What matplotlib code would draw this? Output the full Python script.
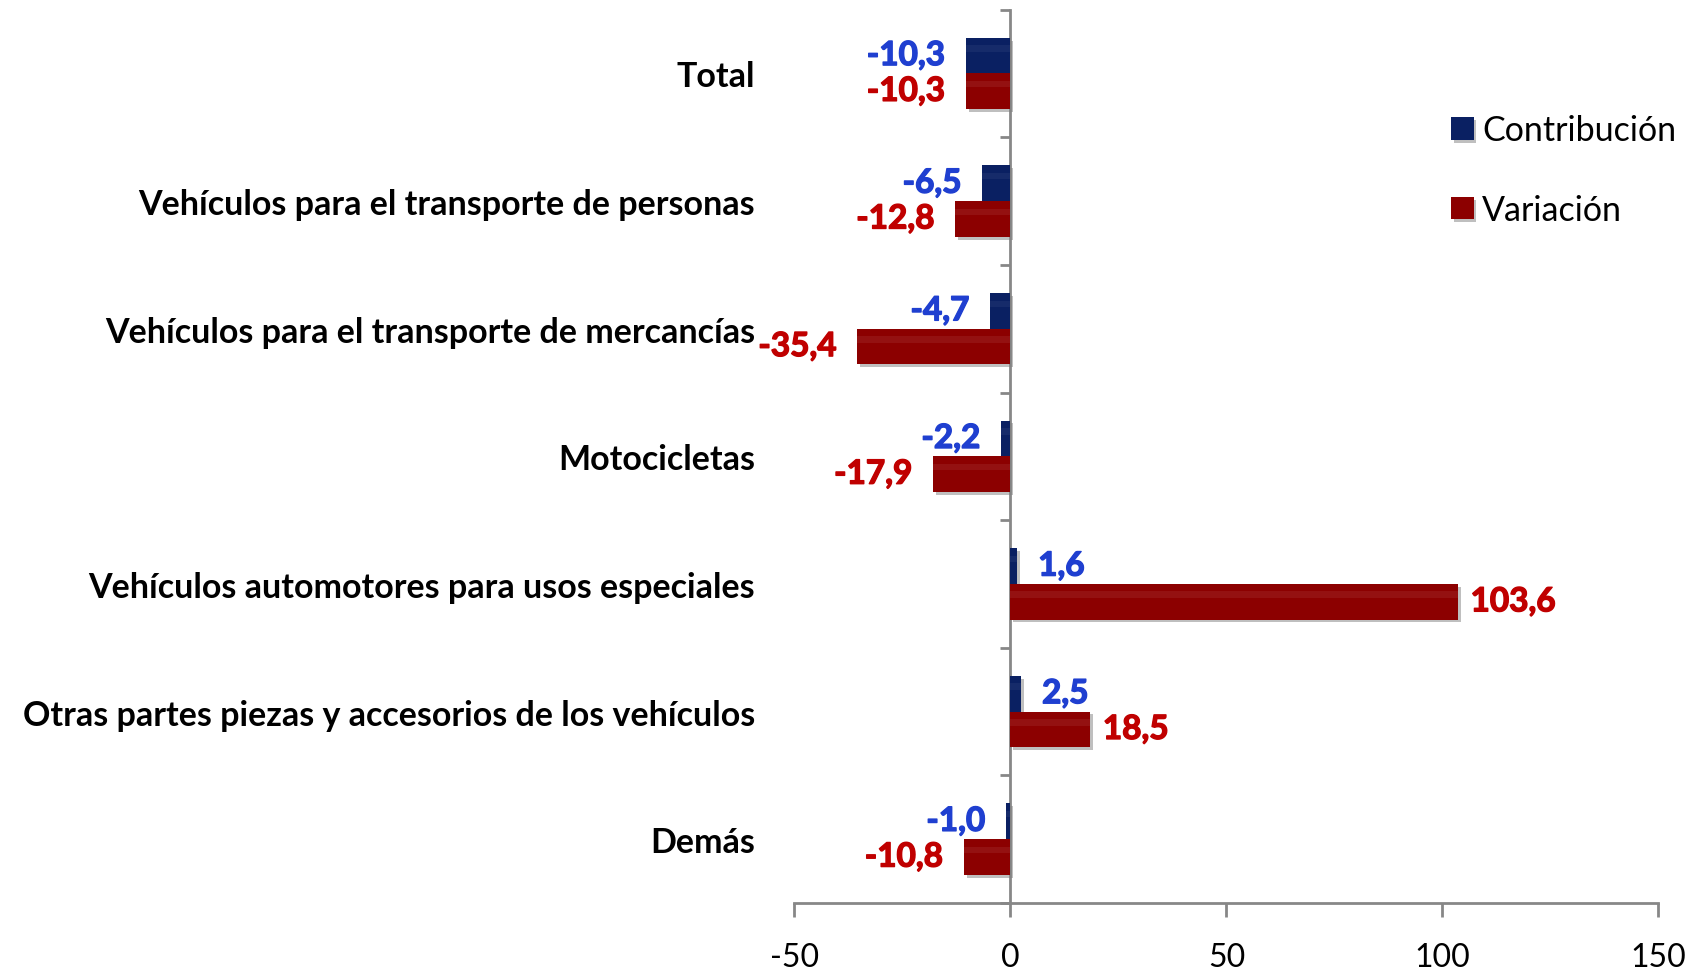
import matplotlib
matplotlib.use('Agg')
import matplotlib.pyplot as plt
import matplotlib.patheffects as pe
import numpy as np

# Datos
categorias = [
    "Total",
    "Vehículos para el transporte de personas",
    "Vehículos para el transporte de mercancías",
    "Motocicletas",
    "Vehículos automotores para usos especiales",
    "Otras partes piezas y accesorios de los vehículos",
    "Demás",
]
contribucion = [-10.3, -6.5, -4.7, -2.2, 1.6, 2.5, -1.0]
variacion = [-10.3, -12.8, -35.4, -17.9, 103.6, 18.5, -10.8]
x_ticks = [-50, 0, 50, 100, 150]

plt.rcParams['font.family'] = ['Lato', 'DejaVu Sans']

fig = plt.figure(figsize=(17.01, 9.70), dpi=100)
ax = fig.add_axes([0.467, 0.068, 0.508, 0.921])

# el eje vertical cruza en x=0 (antes de tocar las etiquetas, porque reinicia los ticks)
for s in ['top', 'right']:
    ax.spines[s].set_visible(False)
ax.spines['left'].set_position(('data', 0))
for s in ['left', 'bottom']:
    ax.spines[s].set_color('#878787')
    ax.spines[s].set_linewidth(2)

y = np.arange(len(categorias))
h = 0.28
shadow = [pe.SimplePatchShadow(offset=(2, -2), shadow_rgbFace='gray', alpha=0.5), pe.Normal()]

b1 = ax.barh(y - h / 2, contribucion, height=h, color='#0A2062', label='Contribución', zorder=3)
b2 = ax.barh(y + h / 2, variacion, height=h, color='#8C0000', label='Variación', zorder=3)
for b in list(b1) + list(b2):
    b.set_path_effects(shadow)

# brillo superior de las barras
ax.barh(y - h / 2 - h * 0.2, contribucion, height=h * 0.18, color='white', alpha=0.05, zorder=4)
ax.barh(y + h / 2 - h * 0.2, variacion, height=h * 0.18, color='white', alpha=0.07, zorder=4)

# etiquetas de valores
def fmt(v):
    return f"{v:.1f}".replace('.', ',')

azul, rojo = '#1F3FD0', '#C00000'
for yi, v in zip(y, contribucion):
    ax.annotate(fmt(v), (v, yi - h / 2), xytext=(15 if v > 0 else -15, 0), textcoords='offset points',
                ha='left' if v > 0 else 'right', va='center', color=azul,
                fontsize=24, fontweight='bold', zorder=5,
                path_effects=[pe.withStroke(linewidth=1.0, foreground=azul)])
for yi, v in zip(y, variacion):
    ax.annotate(fmt(v), (v, yi + h / 2), xytext=(9 if v > 0 else -15, 0), textcoords='offset points',
                ha='left' if v > 0 else 'right', va='center', color=rojo,
                fontsize=24, fontweight='bold', zorder=5,
                path_effects=[pe.withStroke(linewidth=1.0, foreground=rojo)])

ax.set_xlim(-50, 150)
ax.set_ylim(len(categorias) - 0.5, -0.5)
ax.set_xticks(x_ticks)
ax.set_xticklabels([str(t) for t in x_ticks])
ax.set_yticks(y)
ax.set_yticklabels(categorias)
ax.set_yticks(np.arange(len(categorias) + 1) - 0.5, minor=True)

ax.tick_params(axis='y', which='major', length=0, pad=184, labelsize=24.5)
ax.tick_params(axis='y', which='minor', length=7, width=2, color='#878787', direction='out')
ax.tick_params(axis='x', which='major', length=10, width=2, color='#878787', pad=18, labelsize=23)
for lbl in ax.get_yticklabels():
    lbl.set_fontweight('bold')

leg = ax.legend(loc='upper left', bbox_to_anchor=(0.725, 0.917), frameon=False, fontsize=24.5,
                handlelength=0.65, handleheight=0.65, handletextpad=0.25, labelspacing=1.4)

fig.savefig('out.png', dpi=100)
